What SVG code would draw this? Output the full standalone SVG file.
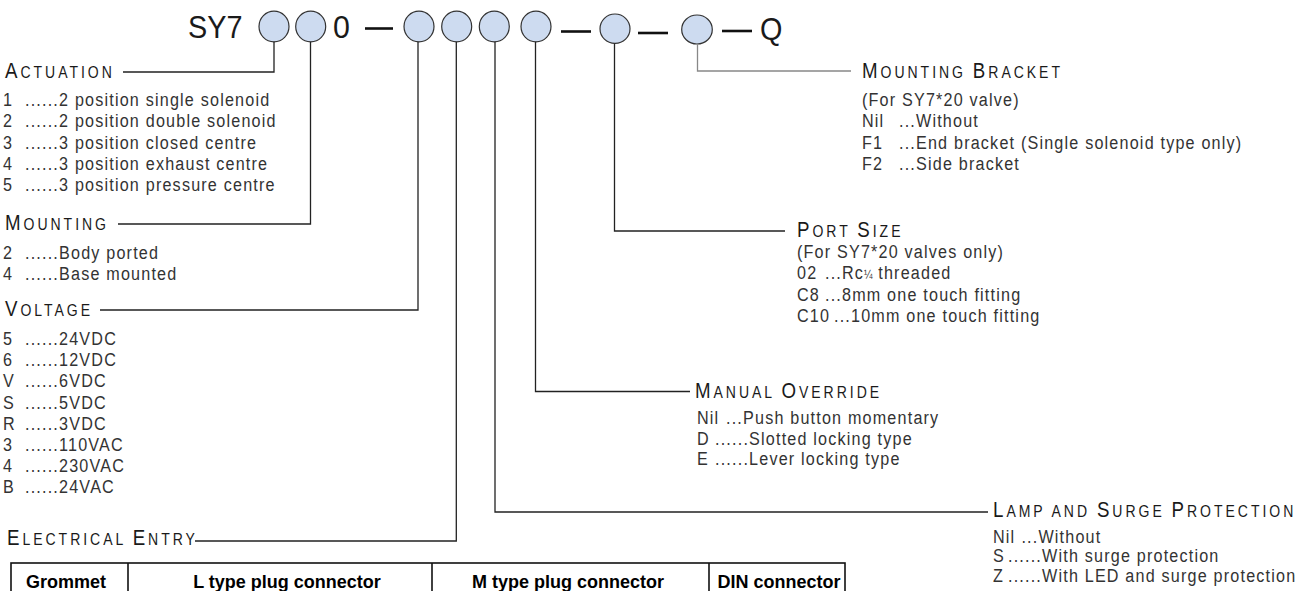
<svg xmlns="http://www.w3.org/2000/svg" width="1310" height="591" viewBox="0 0 1310 591">
<style>
.code{font-family:"Liberation Sans",Arial,sans-serif;font-size:32px;fill:#1a1a1a}
.dash{stroke:#111;stroke-width:2.6}
.slot{fill:#cddbf0;stroke:#333;stroke-width:1.2}
.conn{fill:none;stroke:#222;stroke-width:1.3}
.light{stroke:#888}
.lbl{font-family:"Liberation Sans",Arial,sans-serif;font-size:16.5px;letter-spacing:3.5px;fill:#1a1a1a}
.big{font-size:22px}
.item{font-family:"Liberation Sans",Arial,sans-serif;font-size:19px;letter-spacing:1.4px;fill:#333}
.tbl{fill:none;stroke:#111;stroke-width:1.6}
.th{font-family:"Liberation Sans",Arial,sans-serif;font-size:18px;font-weight:bold;fill:#000;text-anchor:middle}
</style>

<g id="part-code">
  <text class="code" transform="translate(188,38) scale(0.9,1)">SY7</text>
  <ellipse class="slot" cx="274" cy="26.5" rx="15" ry="15.3"/>
  <ellipse class="slot" cx="310.7" cy="26.5" rx="15" ry="15.3"/>
  <text class="code" transform="translate(333,38) scale(0.95,1)">0</text>
  <line class="dash" x1="365" y1="28.5" x2="393" y2="28.5"/>
  <ellipse class="slot" cx="419" cy="26.5" rx="15" ry="15.3"/>
  <ellipse class="slot" cx="456.7" cy="26.5" rx="15" ry="15.3"/>
  <ellipse class="slot" cx="494.3" cy="26.5" rx="15" ry="15.3"/>
  <ellipse class="slot" cx="536" cy="26.5" rx="15" ry="15.3"/>
  <line class="dash" x1="561" y1="31.5" x2="591" y2="31.5"/>
  <ellipse class="slot" cx="615" cy="28.7" rx="15" ry="14.7"/>
  <line class="dash" x1="638" y1="33" x2="668" y2="33"/>
  <ellipse class="slot" cx="697" cy="29.5" rx="15.3" ry="14.5"/>
  <line class="dash" x1="722" y1="31" x2="752" y2="31"/>
  <text class="code" transform="translate(760,40) scale(0.9,1)">Q</text>
</g>

<g id="connectors">
  <path class="conn" d="M274,41.8 V72 H123"/>
  <path class="conn" d="M310.5,41.8 V224 H118"/>
  <path class="conn" d="M418,41.8 V310 H100"/>
  <path class="conn" d="M456.3,41.8 V541 H195"/>
  <path class="conn" d="M495,41.8 V512 H988"/>
  <path class="conn" d="M535.5,41.8 V391.5 H690"/>
  <path class="conn" d="M614.5,43.4 V231 H785"/>
  <path class="conn light" d="M697.5,44 V71 H851"/>
</g>

<g id="actuation" transform="scale(0.85,1)">
  <text class="lbl" x="5.9" y="78"><tspan class="big">A</tspan>CTUATION</text>
  <text class="item" y="106"><tspan x="3.5">1</tspan><tspan x="29.4">......2 position single solenoid</tspan></text>
  <text class="item" y="127.3"><tspan x="3.5">2</tspan><tspan x="29.4">......2 position double solenoid</tspan></text>
  <text class="item" y="148.6"><tspan x="3.5">3</tspan><tspan x="29.4">......3 position closed centre</tspan></text>
  <text class="item" y="169.9"><tspan x="3.5">4</tspan><tspan x="29.4">......3 position exhaust centre</tspan></text>
  <text class="item" y="191.2"><tspan x="3.5">5</tspan><tspan x="29.4">......3 position pressure centre</tspan></text>
</g>

<g id="mounting" transform="scale(0.85,1)">
  <text class="lbl" x="5.9" y="230"><tspan class="big">M</tspan>OUNTING</text>
  <text class="item" y="259"><tspan x="3.5">2</tspan><tspan x="29.4">......Body ported</tspan></text>
  <text class="item" y="280.3"><tspan x="3.5">4</tspan><tspan x="29.4">......Base mounted</tspan></text>
</g>

<g id="voltage" transform="scale(0.85,1)">
  <text class="lbl" x="5.9" y="316.5"><tspan class="big">V</tspan>OLTAGE</text>
  <text class="item" y="345"><tspan x="3.5">5</tspan><tspan x="29.4">......24VDC</tspan></text>
  <text class="item" y="366.2"><tspan x="3.5">6</tspan><tspan x="29.4">......12VDC</tspan></text>
  <text class="item" y="387.4"><tspan x="3.5">V</tspan><tspan x="29.4">......6VDC</tspan></text>
  <text class="item" y="408.6"><tspan x="3.5">S</tspan><tspan x="29.4">......5VDC</tspan></text>
  <text class="item" y="429.8"><tspan x="3.5">R</tspan><tspan x="29.4">......3VDC</tspan></text>
  <text class="item" y="451"><tspan x="3.5">3</tspan><tspan x="29.4">......110VAC</tspan></text>
  <text class="item" y="472.2"><tspan x="3.5">4</tspan><tspan x="29.4">......230VAC</tspan></text>
  <text class="item" y="493.4"><tspan x="3.5">B</tspan><tspan x="29.4">......24VAC</tspan></text>
</g>

<g id="electrical-entry">
  <text class="lbl" transform="translate(7,545) scale(0.85,1)"><tspan class="big">E</tspan>LECTRICAL <tspan class="big">E</tspan>NTRY</text>
  <rect class="tbl" x="11" y="563" width="834" height="45"/>
  <line class="tbl" x1="128" y1="563" x2="128" y2="608"/>
  <line class="tbl" x1="432" y1="563" x2="432" y2="608"/>
  <line class="tbl" x1="709" y1="563" x2="709" y2="608"/>
  <text class="th" x="66" y="588">Grommet</text>
  <text class="th" x="287" y="588">L type plug connector</text>
  <text class="th" x="568" y="588">M type plug connector</text>
  <text class="th" x="779" y="588">DIN connector</text>
</g>

<g id="mounting-bracket" transform="translate(862,0) scale(0.85,1)">
  <text class="lbl" x="0" y="78"><tspan class="big">M</tspan>OUNTING <tspan class="big">B</tspan>RACKET</text>
  <text class="item" x="0" y="106">(For SY7*20 valve)</text>
  <text class="item" y="127.3"><tspan x="0">Nil</tspan><tspan x="43.5">...Without</tspan></text>
  <text class="item" y="148.6"><tspan x="0">F1</tspan><tspan x="43.5">...End bracket (Single solenoid type only)</tspan></text>
  <text class="item" y="169.9"><tspan x="0">F2</tspan><tspan x="43.5">...Side bracket</tspan></text>
</g>

<g id="port-size" transform="translate(797,0) scale(0.85,1)">
  <text class="lbl" x="0" y="237"><tspan class="big">P</tspan>ORT <tspan class="big">S</tspan>IZE</text>
  <text class="item" x="0" y="258">(For SY7*20 valves only)</text>
  <text class="item" y="279.3"><tspan x="0">02</tspan><tspan x="32.9">...Rc</tspan><tspan font-size="12" letter-spacing="0">¼</tspan><tspan> threaded</tspan></text>
  <text class="item" y="300.6"><tspan x="0">C8</tspan><tspan x="32.9">...8mm one touch fitting</tspan></text>
  <text class="item" y="321.9"><tspan x="0">C10</tspan><tspan x="43.5">...10mm one touch fitting</tspan></text>
</g>

<g id="manual-override" transform="translate(697,0) scale(0.85,1)">
  <text class="lbl" x="-2.4" y="398"><tspan class="big">M</tspan>ANUAL <tspan class="big">O</tspan>VERRIDE</text>
  <text class="item" y="424.5"><tspan x="0">Nil</tspan><tspan x="34.1">...Push button momentary</tspan></text>
  <text class="item" y="445"><tspan x="0">D</tspan><tspan x="21.2">......Slotted locking type</tspan></text>
  <text class="item" y="465.5"><tspan x="0">E</tspan><tspan x="21.2">......Lever locking type</tspan></text>
</g>

<g id="lamp-surge" transform="translate(993,0) scale(0.85,1)">
  <text class="lbl" x="0" y="517"><tspan class="big">L</tspan>AMP AND <tspan class="big">S</tspan>URGE <tspan class="big">P</tspan>ROTECTION</text>
  <text class="item" y="543"><tspan x="0">Nil</tspan><tspan x="33.4">...Without</tspan></text>
  <text class="item" y="562.5"><tspan x="0">S</tspan><tspan x="17.6">......With surge protection</tspan></text>
  <text class="item" y="582"><tspan x="0">Z</tspan><tspan x="17.6">......With LED and surge protection</tspan></text>
</g>
</svg>
